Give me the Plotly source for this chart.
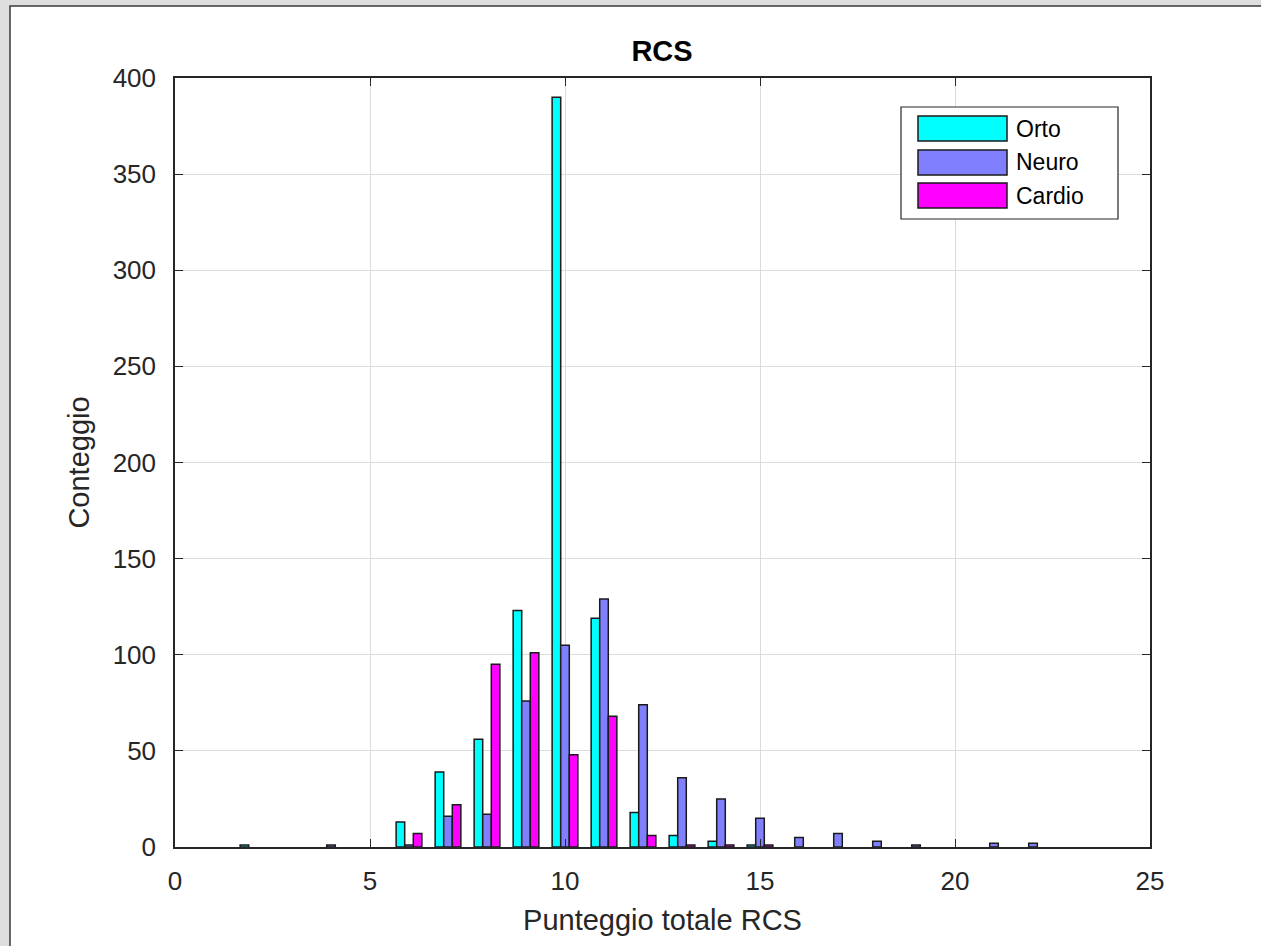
import plotly.graph_objects as go

# ---------------- data ----------------
scores = list(range(2, 23))
orto = [1, None, None, None, 13, 39, 56, 123, 390, 119, 18, 6, 3, 1,
        None, None, None, None, None, None, None]
neuro = [None, None, 1, None, 1, 16, 17, 76, 105, 129, 74, 36, 25, 15,
         5, 7, 3, 1, None, 2, 2]
cardio = [None, None, None, None, 7, 22, 95, 101, 48, 68, 6, 1, 1, 1,
          None, None, None, None, None, None, None]

series_names = ["Orto", "Neuro", "Cardio"]
series_values = [orto, neuro, cardio]
series_colors = ["#00FFFF", "#8080FF", "#FF00FF"]

x_ticks = [0, 5, 10, 15, 20, 25]
y_ticks = [0, 50, 100, 150, 200, 250, 300, 350, 400]

# ---------------- geometry helpers (pixels -> paper) ----------------
W, H = 1261, 946
L, R, T, B = 175, 1150, 78, 847


def px(p):
    return (p - L) / (R - L)


def py(q):
    return (B - q) / (B - T)


FONT = "Liberation Sans, Arial, Helvetica, sans-serif"
DARK = "#262626"

fig = go.Figure()
for name, vals, col in zip(series_names, series_values, series_colors):
    fig.add_trace(go.Bar(
        x=scores, y=vals, name=name,
        marker=dict(color=col, line=dict(color="#1a1a1a", width=1.5)),
        showlegend=False,
    ))

shapes = []
annotations = []

# window frame: white panel on gray background
shapes.append(dict(type="rect", xref="paper", yref="paper", layer="below",
                   x0=px(10), x1=px(1300), y0=py(6), y1=py(1000),
                   fillcolor="white", line=dict(color="#3a3a3a", width=1.5)))

# custom legend (MATLAB style)
shapes.append(dict(type="rect", xref="paper", yref="paper",
                   x0=px(901), x1=px(1118), y0=py(107), y1=py(219),
                   fillcolor="white", line=dict(color=DARK, width=1.2)))
rows = [(116, 141), (150, 175), (183, 208)]
for (y0, y1), name, col in zip(rows, series_names, series_colors):
    shapes.append(dict(type="rect", xref="paper", yref="paper",
                       x0=px(918), x1=px(1007), y0=py(y0), y1=py(y1),
                       fillcolor=col, line=dict(color="#1a1a1a", width=1.5)))
    annotations.append(dict(xref="paper", yref="paper",
                            x=px(1014), y=py((y0 + y1) / 2),
                            xanchor="left", yanchor="middle", showarrow=False,
                            text=name, font=dict(family=FONT, size=23, color="black")))

fig.update_layout(
    width=W, height=H,
    margin=dict(l=L, r=W - R, t=T, b=H - B, pad=0),
    paper_bgcolor="#dedede",
    plot_bgcolor="white",
    barmode="group", bargap=0.34, bargroupgap=0,
    font=dict(family=FONT, color=DARK),
    title=dict(text="<b>RCS</b>", x=px(662), xref="paper", xanchor="center",
               y=1 - 51 / H, yref="container", yanchor="middle",
               font=dict(family=FONT, size=29, color="black")),
    shapes=shapes,
    annotations=annotations,
)

fig.update_xaxes(
    range=[0, 25], tickvals=x_ticks, ticktext=[str(v) for v in x_ticks],
    showgrid=True, gridcolor="#dcdcdc", gridwidth=1.2,
    zeroline=False, showline=True, linecolor=DARK, linewidth=1.5, mirror="ticks",
    ticks="inside", ticklen=8, tickcolor=DARK, tickwidth=1.2,
    tickfont=dict(family=FONT, size=26, color=DARK), ticklabelstandoff=10,
    title=dict(text="Punteggio totale RCS", standoff=15,
               font=dict(family=FONT, size=29, color=DARK)),
)
fig.update_yaxes(
    range=[0, 400], tickvals=y_ticks, ticktext=[str(v) for v in y_ticks],
    showgrid=True, gridcolor="#dcdcdc", gridwidth=1.2,
    zeroline=False, showline=True, linecolor=DARK, linewidth=1.5, mirror="ticks",
    ticks="inside", ticklen=8, tickcolor=DARK, tickwidth=1.2,
    tickfont=dict(family=FONT, size=26, color=DARK), ticklabelstandoff=12,
    title=dict(text="Conteggio", standoff=15,
               font=dict(family=FONT, size=29, color=DARK)),
)

fig.write_html(
    "out.html",
    config={"displayModeBar": False},
    post_script="document.body.style.margin='0px';"
                "document.body.style.overflow='hidden';",
)
